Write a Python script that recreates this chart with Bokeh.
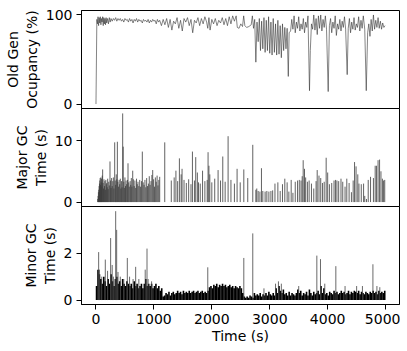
from bokeh.plotting import figure
from bokeh.layouts import column
from bokeh.models import Range1d, FixedTicker, Title
from bokeh.embed import file_html
from bokeh.resources import INLINE

# ---- Old Gen occupancy (%) ----
occ_t = [0, 15, 25, 35, 45, 55, 65, 75, 85, 95, 105, 115, 125, 135, 145, 155, 165, 175, 185, 200,
         215, 230, 245, 260, 280, 300, 320, 340, 360, 380, 400, 420, 440, 460, 480, 500, 520, 540,
         560, 580, 600, 620, 640, 660, 680, 700, 720, 740, 760, 780, 800, 820, 840, 860, 880, 900,
         920, 940, 960, 980, 1000, 1020, 1040, 1060, 1080, 1100,
         1130, 1160, 1190, 1220, 1250, 1280, 1310, 1340, 1370, 1400, 1430, 1460, 1490, 1520, 1550,
         1580, 1610, 1640, 1670, 1700, 1730, 1760, 1790, 1820, 1850, 1880, 1910, 1930, 1950, 1970,
         2000, 2030, 2060, 2090, 2120, 2150, 2180, 2210, 2240, 2270, 2300, 2330, 2360, 2390, 2420,
         2440, 2470, 2500, 2530, 2550, 2570, 2600, 2640, 2680, 2700,
         2720, 2740, 2760, 2780, 2800, 2820, 2840, 2860, 2880, 2900, 2920, 2940, 2960, 2980, 3000,
         3020, 3040, 3060, 3080, 3100, 3120, 3140, 3160, 3180, 3200, 3220, 3240, 3260, 3280, 3300,
         3320, 3335,
         3360, 3380, 3400, 3420, 3440, 3460, 3480, 3500, 3520, 3540, 3560, 3580, 3600, 3620, 3640,
         3660, 3686, 3700, 3720, 3740, 3760, 3780, 3800, 3820, 3840, 3860, 3880, 3900, 3920, 3940,
         3960, 3980, 4009, 4030, 4050, 4070, 4090, 4110, 4130, 4150, 4170, 4190, 4210, 4230, 4250,
         4270, 4290, 4310, 4337, 4355, 4375, 4395, 4415, 4435, 4455, 4475, 4495, 4515, 4535, 4555,
         4575, 4595, 4615, 4640, 4666, 4690, 4710, 4730, 4750, 4770, 4790, 4810, 4830, 4850, 4870,
         4890, 4910, 4930, 4950, 4970, 4990]
occ_v = [0, 95, 90, 98, 88, 97, 91, 98, 89, 96, 92, 98, 88, 97, 90, 96, 89, 97, 91, 96,
         90, 97, 92, 96, 93, 96, 94, 97, 93, 96, 94, 96, 93, 95, 92, 96, 94, 95,
         92, 96, 93, 95, 91, 95, 93, 96, 92, 95, 93, 94, 91, 95, 93, 94, 92, 95,
         91, 94, 92, 95, 93, 94, 90, 95, 92, 94,
         88, 95, 89, 96, 86, 95, 83, 93, 90, 97, 85, 94, 82, 96, 92,
         97, 88, 95, 80, 94, 91, 97, 88, 96, 90, 98, 92, 85, 97, 83,
         95, 90, 96, 88, 94, 91, 97, 89, 96, 88, 98, 90, 99, 93, 99,
         86, 85, 90, 87, 99, 88, 86, 87, 89, 99,
         85, 95, 47, 92, 70, 96, 60, 93, 62, 97, 58, 94, 60, 98, 57,
         92, 55, 96, 58, 90, 55, 94, 56, 88, 52, 90, 60, 86, 62, 85,
         31, 80,
         82, 95, 84, 99, 80, 92, 85, 98, 82, 90, 84, 96, 80, 92, 86,
         99, 15, 60, 90, 84, 100, 83, 96, 78, 99, 85, 100, 82, 95, 86,
         99, 84, 14, 88, 96, 80, 92, 85, 99, 77, 90, 84, 95, 82, 93,
         86, 98, 84, 33, 85, 96, 80, 92, 84, 97, 83, 90, 86, 98, 82,
         94, 85, 99, 84, 15, 80, 90, 76, 95, 82, 100, 84, 94, 86, 97,
         85, 93, 84, 91, 86, 88]

# ---- Major GC time (s) ----
maj_t = [30, 36, 42, 48, 54, 60, 66, 72, 78, 84, 90, 96, 102, 108, 115, 122, 130, 138, 146, 154,
         162, 170, 178, 186, 194, 202, 210, 220, 230, 242, 250, 260, 270, 280, 290, 300, 310, 323,
         332, 340, 350, 360, 369, 378, 390, 400, 410, 420, 430, 440, 450, 461, 470, 480, 490, 500,
         510, 520, 530, 545, 553, 565, 575, 590, 600, 610, 620, 634, 645, 660, 672, 685, 700, 712,
         725, 740, 755, 770, 785, 800, 815, 830, 845, 860, 875, 890, 905, 920, 935, 950, 965, 979,
         995, 1010, 1025, 1040, 1055, 1070, 1085, 1100, 1187,
         1300, 1350, 1380, 1410, 1440, 1470, 1486, 1520, 1560, 1600, 1640, 1665, 1700, 1722, 1750,
         1770, 1800, 1840, 1880, 1920, 1935, 1950, 1965, 2000, 2050, 2108, 2150, 2189, 2230, 2281,
         2330, 2390, 2436, 2490, 2552, 2620, 2707,
         2760, 2776, 2800, 2830, 2857, 2880, 2920, 2950, 2985, 3020, 3050, 3090, 3140, 3180, 3220,
         3260, 3300, 3330, 3370, 3400, 3440, 3480, 3510, 3540, 3560, 3577, 3600, 3620, 3650, 3680,
         3720, 3760, 3800, 3819, 3850, 3880, 3910, 3940, 3974, 4000, 4030, 4070, 4110, 4136, 4160,
         4190, 4230, 4260, 4300, 4330, 4370, 4410, 4440, 4464, 4490, 4520, 4540, 4580, 4620, 4640,
         4670, 4700, 4740, 4790, 4820, 4844, 4870, 4896, 4920, 4945, 4965, 4985]
maj_v = [0.5, 1.0, 1.6, 2.0, 2.6, 3.0, 3.5, 3.9, 2.8, 4.0, 3.2, 3.8, 2.5, 4.3, 5.3, 3.1, 2.2, 3.7, 2.6, 3.4,
         2.0, 3.6, 2.9, 3.1, 2.4, 3.8, 2.1, 3.3, 2.7, 6.6, 3.5, 2.3, 3.9, 2.6, 3.4, 4.0, 2.2, 9.7,
         3.5, 2.8, 4.5, 3.7, 9.8, 3.3, 2.5, 3.6, 2.9, 3.8, 2.2, 3.4, 2.4, 14.4, 9.0, 3.3, 2.3, 4.0,
         2.6, 3.5, 2.9, 3.6, 6.3, 3.2, 2.5, 3.4, 2.8, 3.9, 2.5, 5.1, 3.7, 2.6, 3.5, 2.3, 3.8, 2.9,
         3.3, 2.6, 3.6, 2.5, 3.4, 8.2, 3.2, 2.8, 3.6, 2.4, 3.9, 2.6, 3.0, 4.2, 2.8, 3.4, 4.4, 5.2,
         3.7, 2.5, 4.0, 3.3, 4.3, 2.7, 3.6, 4.1, 9.7,
         3.5, 4.0, 5.1, 3.4, 7.1, 4.5, 5.4, 3.6, 3.1, 3.7, 2.9, 8.2, 3.5, 7.3, 4.8,
         3.2, 3.0, 5.1, 3.4, 3.6, 8.1, 5.9, 4.5, 3.2, 3.8, 5.2, 3.5, 7.4, 3.3, 10.7,
         3.6, 3.0, 5.4, 3.2, 5.3, 3.9, 9.3,
         2.0, 2.2, 1.8, 1.7, 5.5, 1.8, 1.7, 1.8, 1.7, 1.8, 1.9, 3.0, 3.2, 1.8, 2.9,
         3.8, 3.2, 1.7, 3.6, 1.5, 3.3, 3.5, 3.6, 3.5, 4.2, 6.8, 5.4, 4.0, 3.3, 3.5,
         3.0, 2.2, 3.4, 5.2, 4.3, 3.9, 3.1, 3.3, 7.2, 4.8, 2.9, 3.1, 3.5, 3.6, 3.5,
         3.4, 3.8, 3.3, 2.5, 3.8, 3.1, 1.6, 3.5, 6.5, 5.8, 4.5, 3.0, 2.9, 3.0, 1.0,
         0.5, 3.6, 4.1, 3.9, 5.9, 5.9, 6.8, 6.9, 5.0, 3.8, 3.5, 3.6]

# ---- Minor GC time (s): dense base + isolated spikes ----
min_t = [10, 35, 60, 85, 110, 135, 160, 185, 210, 235, 260, 285, 310, 335, 360, 385, 410, 435, 460, 485,
         510, 535, 560, 585, 610, 635, 660, 685, 710, 735, 760, 785, 810, 835, 860, 885, 910, 935, 960, 985,
         1010, 1035, 1060, 1085, 1110, 1135,
         1160, 1185, 1210, 1235, 1260, 1285, 1310, 1335, 1360, 1385, 1410, 1435, 1460, 1485, 1510, 1535,
         1560, 1585, 1610, 1635, 1660, 1685, 1710, 1735, 1760, 1785, 1810, 1835, 1860, 1885, 1910,
         1935, 1960, 1985, 2010, 2035, 2060, 2085, 2110, 2135, 2160, 2185, 2210, 2235, 2260, 2285, 2310,
         2335, 2360, 2385, 2410, 2435, 2460, 2485, 2510,
         2535, 2560, 2585, 2610, 2635, 2660, 2685, 2710, 2735, 2760, 2785, 2810, 2835, 2860, 2885, 2910,
         2935, 2960, 2985, 3010, 3035, 3060, 3085, 3110, 3135, 3160, 3185, 3210, 3235, 3260, 3285, 3310,
         3335, 3360, 3385, 3410, 3435, 3460, 3485, 3510, 3535, 3560, 3585, 3610, 3635, 3660, 3685, 3710,
         3735, 3760, 3785, 3810, 3835, 3860, 3885, 3910, 3935, 3960, 3985, 4010, 4035, 4060, 4085, 4110,
         4135, 4160, 4185, 4210, 4235, 4260, 4285, 4310, 4335, 4360, 4385, 4410, 4435, 4460, 4485, 4510,
         4535, 4560, 4585, 4610, 4635, 4660, 4685, 4710, 4735, 4760, 4785, 4810, 4835, 4860, 4885, 4910,
         4935, 4960, 4985]
min_v = [0.6, 1.3, 1.1, 0.9, 0.7, 1.0, 0.8, 0.6, 0.9, 0.7, 1.1, 0.8, 0.6, 0.9, 1.0, 0.7, 0.8, 0.6, 0.9, 0.7,
         0.6, 0.8, 0.7, 0.6, 0.7, 0.5, 0.8, 0.6, 0.7, 0.5, 0.6, 0.7, 0.5, 0.7, 0.9, 0.6, 0.7, 0.6, 0.7, 0.5,
         0.6, 0.7, 0.5, 0.6, 0.4, 0.5,
         0.15, 0.2, 0.3, 0.25, 0.35, 0.2, 0.3, 0.35, 0.25, 0.3, 0.4, 0.3, 0.35, 0.25, 0.4, 0.3,
         0.35, 0.3, 0.4, 0.3, 0.35, 0.4, 0.3, 0.35, 0.4, 0.3, 0.35, 0.4, 0.3, 0.35, 0.3,
         0.4, 0.55, 0.6, 0.5, 0.65, 0.6, 0.7, 0.55, 0.65, 0.6, 0.7, 0.6, 0.65, 0.55, 0.6, 0.65,
         0.55, 0.6, 0.5, 0.6, 0.55, 0.5, 0.6, 0.5,
         0.3, 0.15, 0.1, 0.15, 0.1, 0.2, 0.15, 0.1, 0.3, 0.2, 0.25, 0.2, 0.3, 0.15, 0.25, 0.2,
         0.3, 0.2, 0.35, 0.25, 0.2, 0.3, 0.2, 0.5, 0.3, 0.6, 0.4, 0.3, 0.45, 0.25, 0.3, 0.2,
         0.35, 0.2, 0.3, 0.25, 0.2, 0.3, 0.45, 0.3, 0.4, 0.2, 0.3, 0.25, 0.35, 0.2, 0.45, 0.3,
         0.2, 0.35, 0.25, 0.3, 0.4, 0.25, 0.6, 0.3, 0.5, 0.25, 0.3, 0.2, 0.35, 0.3, 0.25, 0.4,
         0.3, 0.35, 0.25, 0.3, 0.4, 0.3, 0.35, 0.25, 0.3, 0.4, 0.25, 0.35, 0.3, 0.4, 0.35, 0.3,
         0.4, 0.25, 0.35, 0.3, 0.25, 0.35, 0.3, 0.25, 0.35, 0.3, 0.4, 0.3, 0.35, 0.25, 0.4, 0.3,
         0.35, 0.3, 0.4]
spike_t = [46, 60, 100, 161, 200, 253, 280, 300, 340, 357, 380, 420, 480, 541, 580, 640, 685, 740, 850,
           881, 900, 960, 1930, 2552, 2707, 2900, 3100, 3150, 3200, 3500, 3813, 3876, 3950, 4141, 4300,
           4500, 4600, 4781, 4850, 4900]
spike_v = [2.05, 1.3, 1.0, 1.73, 1.25, 2.65, 1.5, 1.0, 3.8, 3.0, 1.2, 1.0, 0.9, 1.8, 1.0, 0.9, 1.42, 0.9, 1.3,
           2.2, 0.9, 0.8, 1.4, 1.8, 2.85, 0.5, 0.7, 0.8, 0.7, 0.6, 1.9, 1.75, 0.7, 1.45, 0.6,
           0.6, 0.6, 1.53, 0.6, 0.55]

x_ticks = [0, 1000, 2000, 3000, 4000, 5000]
FONT = "DejaVu Sans"
FS = "14px"

xr = Range1d(-250, 5240)


def make_fig(height, yr, ticks, line1, line2, top, bottom, show_x, margin):
    p = figure(width=400, height=height, x_range=xr, y_range=Range1d(*yr),
               output_backend="svg", toolbar_location=None,
               min_border_left=81, min_border_right=1,
               min_border_top=top, min_border_bottom=bottom, margin=margin)
    p.grid.visible = False
    p.outline_line_color = "black"
    p.outline_line_alpha = 1
    p.outline_line_width = 1
    p.background_fill_color = "white"
    p.border_fill_alpha = 0
    for ax in (p.xaxis[0], p.yaxis[0]):
        ax.axis_line_color = "black"
        ax.major_tick_line_color = "black"
        ax.minor_tick_line_color = None
        ax.major_tick_out = 5
        ax.major_tick_in = 0
        ax.major_label_text_font = FONT
        ax.major_label_text_font_size = FS
        ax.major_label_text_color = "black"
        ax.axis_label_text_font = FONT
        ax.axis_label_text_font_size = FS
        ax.axis_label_text_font_style = "normal"
        ax.axis_label_text_color = "black"
        ax.major_label_standoff = 4
    p.yaxis.ticker = FixedTicker(ticks=ticks)
    p.yaxis.axis_label = line2
    p.yaxis.axis_label_standoff = 3
    p.add_layout(Title(text=line1, align="center", text_font=FONT, text_font_size=FS,
                       text_font_style="normal", text_color="black", standoff=0, offset=0), "left")
    p.xaxis.ticker = FixedTicker(ticks=x_ticks)
    if show_x:
        p.xaxis.axis_label = "Time (s)"
        p.xaxis.axis_label_standoff = 1
    else:
        p.xaxis.visible = False
    return p


p1 = make_fig(114, (-5, 105), [0, 100], "Old Gen", "Ocupancy (%)", 10, 6, False, (0, 0, 0, 0))
p1.line(occ_t, occ_v, line_color="#333333", line_width=0.6)

p2 = make_fig(104, (-0.72, 15.2), [0, 10], "Major GC", "Time (s)", 0, 6, False, (-6, 0, 0, 0))
p2.segment(x0=maj_t, y0=[0] * len(maj_t), x1=maj_t, y1=maj_v, line_color="#3a3a3a", line_width=0.8)

p3 = make_fig(145, (-0.19, 4.0), [0, 2], "Minor GC", "Time (s)", 0, 47, True, (-6, 0, 0, 0))
p3.segment(x0=min_t, y0=[0] * len(min_t), x1=min_t, y1=min_v, line_color="black", line_width=1.6)
p3.segment(x0=spike_t, y0=[0] * len(spike_t), x1=spike_t, y1=spike_v, line_color="#444444", line_width=0.8)

layout = column(p1, p2, p3, spacing=0)
open("out.html", "w").write(file_html(layout, INLINE))
